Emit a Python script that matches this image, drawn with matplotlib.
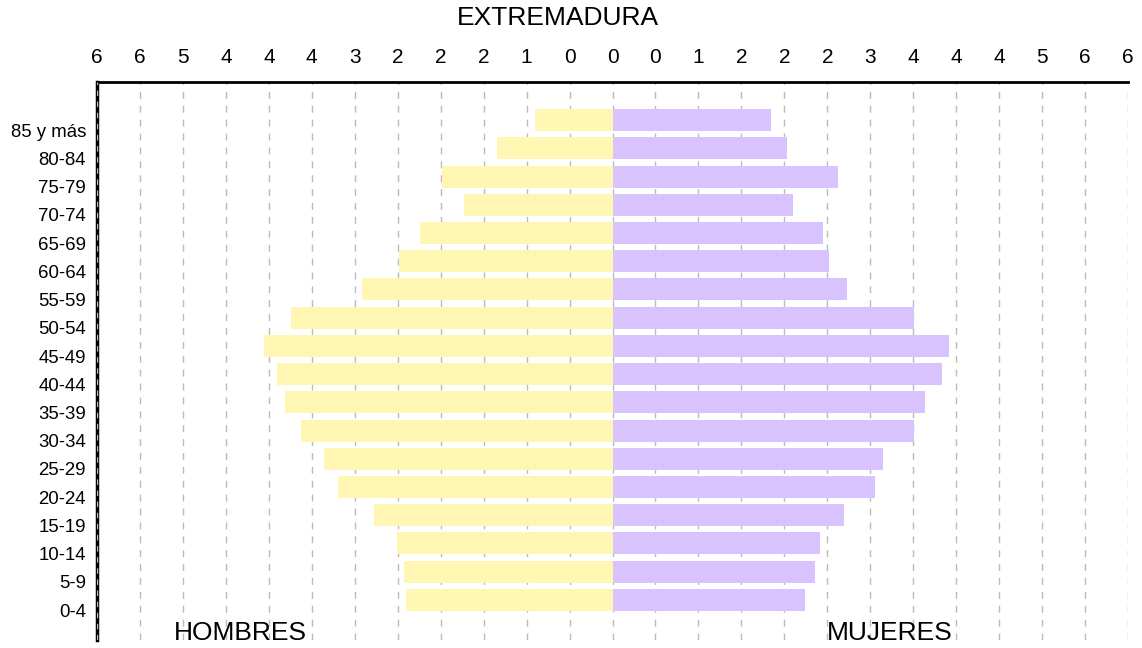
import matplotlib
matplotlib.use("Agg")
import matplotlib.pyplot as plt
import numpy as np

plt.rcParams['font.family'] = ['Liberation Sans', 'DejaVu Sans']

groups = ["0-4", "5-9", "10-14", "15-19", "20-24", "25-29", "30-34", "35-39",
          "40-44", "45-49", "50-54", "55-59", "60-64", "65-69", "70-74",
          "75-79", "80-84", "85 y más"]
hombres = [2.40, 2.43, 2.51, 2.78, 3.20, 3.36, 3.63, 3.81, 3.91, 4.06, 3.74,
           2.92, 2.49, 2.24, 1.73, 1.98, 1.34, 0.90]
mujeres = [2.24, 2.36, 2.41, 2.69, 3.05, 3.15, 3.51, 3.64, 3.83, 3.92, 3.51,
           2.73, 2.52, 2.45, 2.10, 2.63, 2.03, 1.85]
xticks = np.arange(-6, 6.01, 0.5)

fig = plt.figure(figsize=(11.42, 6.48), dpi=100)
ax = fig.add_axes([97/1142, 1-640/648, (1128-97)/1142, (640-82)/648])

y = np.arange(len(groups))
ax.barh(y, [-v for v in hombres], height=0.78, color='#FFF6B3', zorder=2)
ax.barh(y, mujeres, height=0.78, color='#D9C3FF', zorder=2)

ax.set_xlim(-6, 6)
ax.set_ylim(-1.42, 18.35)
ax.set_xticks(xticks)
ax.set_xticklabels([f"{abs(v):.0f}" for v in xticks], fontsize=15)
ax.xaxis.tick_top()
ax.tick_params(axis='x', length=0, pad=11)
ax.set_yticks(y - 0.36)
ax.set_yticklabels(groups, fontsize=13.4)
ax.tick_params(axis='y', length=0, pad=8)

ax.grid(axis='x', color='#bbbbbb', linestyle=(0, (5, 5)), linewidth=1, zorder=1)
ax.set_axisbelow(True)

for s in ['right', 'bottom']:
    ax.spines[s].set_visible(False)
ax.spines['top'].set_linewidth(2)
ax.spines['left'].set_linewidth(2.5)
ax.axvline(-6, color='#bbbbbb', linestyle=(0, (4, 4)), linewidth=1, zorder=5)

fig.text(240/1142, 1-633/648, "HOMBRES", fontsize=19, ha='center', va='center')
fig.text(890/1142, 1-633/648, "MUJERES", fontsize=19, ha='center', va='center')
fig.text(558/1142, 1-18/648, "EXTREMADURA", fontsize=19, ha='center', va='center')

fig.savefig("out.png", dpi=100)
